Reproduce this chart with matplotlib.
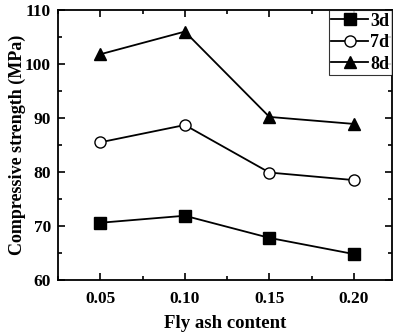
import matplotlib
matplotlib.use("Agg")
import matplotlib.pyplot as plt
from matplotlib.ticker import MultipleLocator

plt.rcParams['font.family'] = ['Liberation Serif', 'DejaVu Serif']
plt.rcParams['font.weight'] = 'bold'

fly_ash = [0.05, 0.10, 0.15, 0.20]
s3d = [70.6, 71.9, 67.8, 64.8]
s7d = [85.5, 88.7, 79.9, 78.5]
s8d = [101.8, 106.0, 90.2, 88.9]
labels = ['3d', '7d', '8d']

fig = plt.figure(figsize=(3.93, 3.34), dpi=100)
ax = fig.add_axes([58/393, 1-280/334, (392-58)/393, (280-10)/334])

ax.plot(fly_ash, s3d, color='black', lw=1.3, marker='s', ms=8, mfc='black', label=labels[0])
ax.plot(fly_ash, s7d, color='black', lw=1.3, marker='o', ms=8, mfc='white', mec='black', label=labels[1])
ax.plot(fly_ash, s8d, color='black', lw=1.3, marker='^', ms=9, mfc='black', label=labels[2])

ax.set_xlim(0.025, 0.2225)
ax.set_ylim(60, 110)
ax.set_xticks(fly_ash)
ax.set_xticklabels(['0.05', '0.10', '0.15', '0.20'])
ax.xaxis.set_minor_locator(MultipleLocator(0.025))
ax.yaxis.set_major_locator(MultipleLocator(10))
ax.yaxis.set_minor_locator(MultipleLocator(5))
ax.tick_params(which='both', direction='in', top=True, right=True, labelsize=12.5, width=1.2)
ax.tick_params(which='major', length=5)
ax.tick_params(which='minor', length=3)
ax.tick_params(axis='x', pad=8)
ax.tick_params(axis='y', pad=5)
for sp in ax.spines.values():
    sp.set_linewidth(1.3)
for t in ax.get_xticklabels() + ax.get_yticklabels():
    t.set_fontweight('bold')

ax.set_xlabel('Fly ash content', fontsize=13.5, fontweight='bold', labelpad=6)
ax.set_ylabel('Compressive strength (MPa)', fontsize=13, fontweight='bold')
ax.yaxis.set_label_coords(-0.096, 0.5)

leg = ax.legend(loc='upper right', fontsize=13, frameon=True, fancybox=False,
                edgecolor='black', borderpad=0.15, handlelength=2.0, handletextpad=0.15,
                labelspacing=0.25, borderaxespad=0.0)
leg.get_frame().set_linewidth(0.8)

fig.savefig('out.png', dpi=100)
